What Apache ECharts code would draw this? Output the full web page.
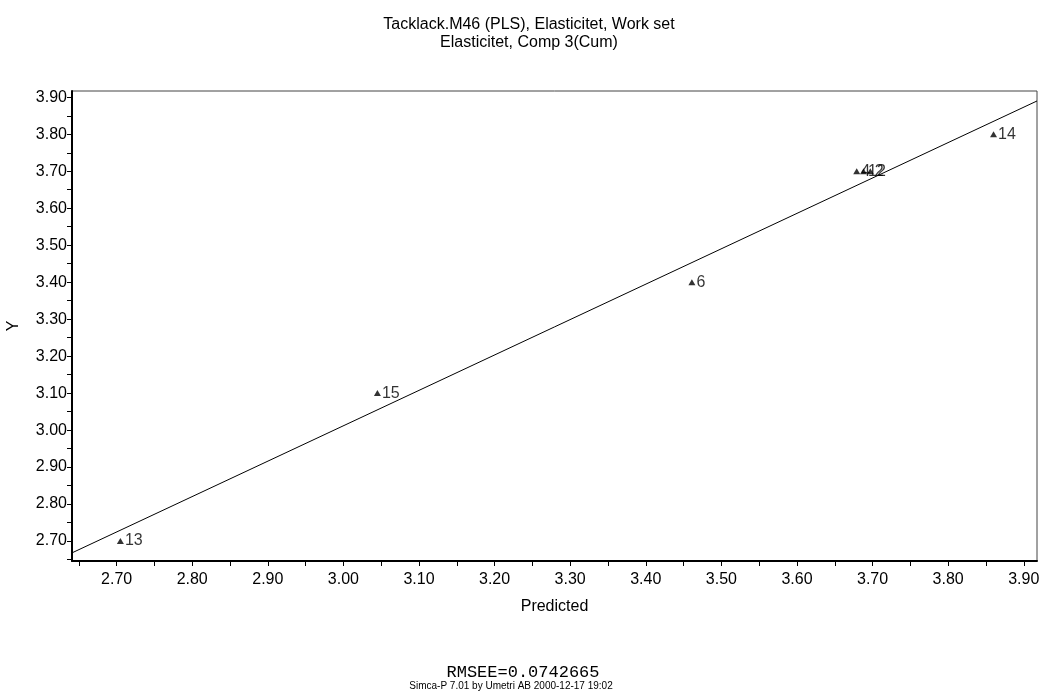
<!DOCTYPE html>
<html>
<head>
<meta charset="utf-8">
<script src="https://cdn.jsdelivr.net/npm/echarts@6/dist/echarts.min.js"></script>
<style>
html,body{margin:0;padding:0;background:#fff;}
#chart{width:1040px;height:698px;}
</style>
</head>
<body>
<div id="chart"></div>
<script>
// ---- data ----
const obsIds    = ['13', '15', '6', '4', '12', '2', '14'];
const predicted = [2.705, 3.045, 3.461, 3.679, 3.688, 3.697, 3.860];
const observed  = [2.70, 3.10, 3.40, 3.70, 3.70, 3.70, 3.80];
const fitLineX  = [2.641, 3.9175];
const fitLineY  = [2.668, 3.890];
const xTickLabels = [2.70, 2.80, 2.90, 3.00, 3.10, 3.20, 3.30, 3.40, 3.50, 3.60, 3.70, 3.80, 3.90];
const yTickLabels = [2.70, 2.80, 2.90, 3.00, 3.10, 3.20, 3.30, 3.40, 3.50, 3.60, 3.70, 3.80, 3.90];
const xTickMarks = [2.65, 2.70, 2.75, 2.80, 2.85, 2.90, 2.95, 3.00, 3.05, 3.10, 3.15, 3.20, 3.25, 3.30, 3.35, 3.40, 3.45, 3.50, 3.55, 3.60, 3.65, 3.70, 3.75, 3.80, 3.85, 3.90];
const yTickMarks = [2.65, 2.70, 2.75, 2.80, 2.85, 2.90, 2.95, 3.00, 3.05, 3.10, 3.15, 3.20, 3.25, 3.30, 3.35, 3.40, 3.45, 3.50, 3.55, 3.60, 3.65, 3.70, 3.75, 3.80, 3.85, 3.90];
const titleLines = ['Tacklack.M46 (PLS), Elasticitet, Work set', 'Elasticitet, Comp 3(Cum)'];
const footerLines = ['RMSEE=0.0742665', 'Simca-P 7.01 by Umetri AB 2000-12-17 19:02'];
const xName = 'Predicted';
const yName = 'Y';

const FONT = '"Liberation Sans", Arial, sans-serif';
const chart = echarts.init(document.getElementById('chart'), null, {renderer: 'canvas'});

const scatterData = obsIds.map((id, i) => ({name: id, value: [predicted[i], observed[i]]}));
const lineData = fitLineX.map((x, i) => [x, fitLineY[i]]);

chart.setOption({
  animation: false,
  backgroundColor: '#fff',
  grid: {
    left: 72, right: 3, top: 91, bottom: 137,
    containLabel: false,
    outerBoundsMode: 'none',
    show: true, borderColor: '#444', borderWidth: 1, backgroundColor: 'transparent'
  },
  xAxis: {
    type: 'value', min: 2.641, max: 3.9175,
    name: xName, nameLocation: 'middle', nameGap: 38,
    nameTextStyle: {fontFamily: FONT, fontSize: 16, color: '#000'},
    axisLine: {show: true, onZero: false, lineStyle: {color: '#000', width: 2}},
    axisTick: {show: true, inside: false, length: 5, lineStyle: {color: '#000', width: 1}, customValues: xTickMarks},
    axisLabel: {fontFamily: FONT, fontSize: 16, color: '#000', margin: 11, customValues: xTickLabels,
                formatter: v => Number(v).toFixed(2)},
    splitLine: {show: false}
  },
  yAxis: {
    type: 'value', min: 2.646, max: 3.917,
    name: yName, nameLocation: 'middle', nameGap: 50,
    nameTextStyle: {fontFamily: FONT, fontSize: 16, color: '#000'},
    axisLine: {show: true, onZero: false, lineStyle: {color: '#000', width: 2}},
    axisTick: {show: true, inside: false, length: 5, lineStyle: {color: '#000', width: 1}, customValues: yTickMarks},
    axisLabel: {fontFamily: FONT, fontSize: 16, color: '#000', margin: 5, customValues: yTickLabels,
                formatter: v => Number(v).toFixed(2)},
    splitLine: {show: false}
  },
  series: [
    {
      type: 'line', data: lineData, showSymbol: false, silent: true,
      lineStyle: {color: '#000', width: 1}, z: 2
    },
    {
      type: 'scatter', data: scatterData, symbol: 'triangle', symbolSize: [7, 6],
      itemStyle: {color: '#000'}, z: 3,
      label: {show: true, position: 'right', distance: 1, formatter: '{b}',
              fontFamily: FONT, fontSize: 16, color: '#000'}
    }
  ],
  graphic: [
    {type: 'text', x: 529, y: 25, style: {text: titleLines[0], align: 'center', verticalAlign: 'middle', fontFamily: FONT, fontSize: 16, fill: '#000'}},
    {type: 'text', x: 529, y: 43, style: {text: titleLines[1], align: 'center', verticalAlign: 'middle', fontFamily: FONT, fontSize: 16, fill: '#000'}},
    {type: 'text', x: 523, y: 672, style: {text: footerLines[0], align: 'center', verticalAlign: 'middle', fontFamily: '"Liberation Mono", "Courier New", monospace', fontSize: 17, fill: '#000'}},
    {type: 'text', x: 511, y: 686, style: {text: footerLines[1], align: 'center', verticalAlign: 'middle', fontFamily: FONT, fontSize: 10, fill: '#000'}}
  ]
});
</script>
</body>
</html>
